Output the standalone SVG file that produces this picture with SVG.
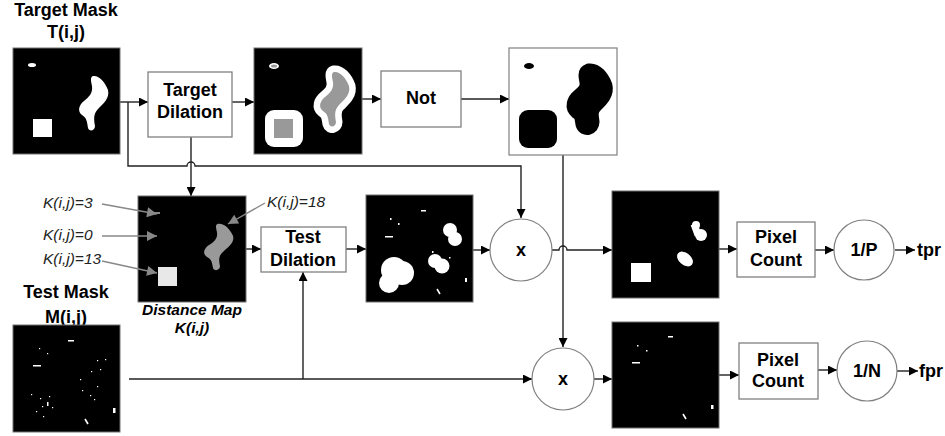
<svg xmlns="http://www.w3.org/2000/svg" width="945" height="436" viewBox="0 0 945 436">
<style>
.t{font-family:"Liberation Sans",Arial,sans-serif;font-weight:bold;font-size:18px;fill:#000;text-anchor:middle}
.k{font-family:"Liberation Sans",Arial,sans-serif;font-style:italic;font-size:15.5px;fill:#222}
.dm{font-family:"Liberation Sans",Arial,sans-serif;font-style:italic;font-weight:bold;font-size:15.5px;fill:#000;text-anchor:middle}
.box{fill:#fff;stroke:#808080;stroke-width:1.3}
.img{fill:#000;stroke:#707070;stroke-width:1}
.c{fill:none;stroke:#222;stroke-width:1.4}
.g{fill:none;stroke:#888;stroke-width:1.4}
.w{fill:#fff}
</style>
<defs>
<marker id="a" viewBox="0 0 10 10" refX="10" refY="5" markerWidth="10" markerHeight="9" markerUnits="userSpaceOnUse" orient="auto"><path d="M0,0 L10,5 L0,10 Z" fill="#000"/></marker>
<marker id="ag" viewBox="0 0 10 10" refX="10" refY="5" markerWidth="12" markerHeight="10" markerUnits="userSpaceOnUse" orient="auto"><path d="M0,0 L10,5 L0,10 Z" fill="#888"/></marker>
<path id="snake" d="M80,28 C86,27 92,34 95,42 C97,50 90,56 85,61 C80,66 81,72 82,78 C82,83 76,84 75,80 C74,74 74,70 69,67 C64,63 66,57 71,53 C76,49 80,45 79,38 C78,33 77,29 80,28 Z"/>
</defs>

<g id="connectors">
<path class="c" d="M120,102 H148" marker-end="url(#a)"/>
<path class="c" d="M128,102 V166 H187 a4,4 0 0 1 8,0 H521 V218" marker-end="url(#a)"/>
<path class="c" d="M191,137 V196" marker-end="url(#a)"/>
<path class="c" d="M232,102 H254" marker-end="url(#a)"/>
<path class="c" d="M362,99 H381" marker-end="url(#a)"/>
<path class="c" d="M461,99 H509" marker-end="url(#a)"/>
<path class="c" d="M563,155 V347" marker-end="url(#a)"/>
<path class="c" d="M246,249 H261" marker-end="url(#a)"/>
<path class="c" d="M346,249 H366" marker-end="url(#a)"/>
<path class="c" d="M473,250 H490" marker-end="url(#a)"/>
<path class="c" d="M552,250 H559 a4,4 0 0 1 8,0 H612" marker-end="url(#a)"/>
<path class="c" d="M129,379 H532" marker-end="url(#a)"/>
<path class="c" d="M303,379 V272" marker-end="url(#a)"/>
<path class="c" d="M594,379 H612" marker-end="url(#a)"/>
<path class="c" d="M719,249 H737" marker-end="url(#a)"/>
<path class="c" d="M815,250 H834" marker-end="url(#a)"/>
<path class="c" d="M895,250 H915" marker-end="url(#a)"/>
<path class="c" d="M719,375 H739" marker-end="url(#a)"/>
<path class="c" d="M818,370 H837" marker-end="url(#a)"/>
<path class="c" d="M897,371 H918" marker-end="url(#a)"/>
</g>

<g id="target-mask">
<text class="t" x="66" y="16">Target Mask</text>
<text class="t" x="66" y="38">T(i,j)</text>
<rect class="img" x="13" y="48" width="107" height="106"/>
<ellipse class="w" cx="32" cy="65" rx="4" ry="2"/>
<use href="#snake" transform="translate(13,48)" fill="#fff"/>
<rect class="w" x="33" y="119" width="19" height="18"/>
</g>

<g id="target-dilation">
<rect class="box" x="148" y="72" width="84" height="65"/>
<text class="t" x="190" y="96">Target</text>
<text class="t" x="190" y="118">Dilation</text>
</g>

<g id="dilated-target">
<rect class="img" x="254" y="48" width="108" height="106"/>
<ellipse cx="274" cy="66" rx="5" ry="3" fill="#fff"/>
<ellipse cx="274" cy="66" rx="3" ry="1.5" fill="#999"/>
<rect class="w" x="265" y="110" width="38" height="37" rx="9"/>
<rect x="274" y="119" width="19" height="19" fill="#999"/>
<use href="#snake" transform="translate(254,44)" fill="#999" stroke="#fff" stroke-width="13" stroke-linejoin="round" paint-order="stroke"/>
</g>

<g id="not">
<rect class="box" x="381" y="71" width="80" height="56"/>
<text class="t" x="421" y="104">Not</text>
</g>

<g id="inverted">
<rect x="509" y="48" width="108" height="107" fill="#fff" stroke="#808080" stroke-width="1.2"/>
<ellipse cx="529" cy="66" rx="5" ry="3" fill="#000"/>
<rect x="519" y="110" width="38" height="38" rx="9" fill="#000"/>
<use href="#snake" transform="translate(509,44)" fill="#000" stroke="#000" stroke-width="17" stroke-linejoin="round"/>
</g>

<g id="distance-map">
<rect class="img" x="138" y="196" width="108" height="106"/>
<rect x="154" y="212" width="6" height="2" fill="#888"/>
<use href="#snake" transform="translate(138,223) scale(1,0.85) translate(0,-27)" fill="#999"/>
<rect x="158" y="267" width="19" height="19" fill="#e8e8e8"/>
<path class="g" d="M102,204 L157,214" marker-end="url(#ag)"/>
<path class="g" d="M102,236 L157,236" marker-end="url(#ag)"/>
<path class="g" d="M102,261 L157,273" marker-end="url(#ag)"/>
<path class="g" d="M265,203 L228,224" marker-end="url(#ag)"/>
<text class="k" x="43" y="208">K(i,j)=3</text>
<text class="k" x="43" y="240">K(i,j)=0</text>
<text class="k" x="43" y="264">K(i,j)=13</text>
<text class="k" x="267" y="207">K(i,j)=18</text>
<text class="dm" x="192" y="315">Distance Map</text>
<text class="dm" x="192" y="333">K(i,j)</text>
</g>

<g id="test-dilation">
<rect class="box" x="261" y="227" width="85" height="45"/>
<text class="t" x="303" y="243">Test</text>
<text class="t" x="303" y="266">Dilation</text>
</g>

<g id="dilated-test">
<rect class="img" x="366" y="195" width="107" height="107"/>
<g fill="#fff">
<circle cx="450" cy="230" r="7"/><circle cx="455" cy="239" r="7"/>
<circle cx="435" cy="261" r="7"/><circle cx="442" cy="266" r="7.5"/>
<circle cx="394" cy="270" r="13"/><circle cx="402" cy="273" r="12"/><circle cx="389" cy="283" r="10"/>
<rect x="421" y="210" width="5" height="1.5"/>
<rect x="385" y="236" width="8" height="1.5"/>
<rect x="390" y="218" width="1.5" height="2"/><rect x="398" y="223" width="1.5" height="2"/>
<rect x="432" y="251" width="1.5" height="2"/><rect x="449" y="257" width="1.5" height="1.5"/>
<rect x="465" y="278" width="2" height="4"/>
<path d="M437,289 L440,294" stroke="#fff" stroke-width="1.5"/>
</g>
</g>

<g id="mult-top">
<circle cx="521" cy="250" r="31" fill="#fff" stroke="#808080" stroke-width="1.2"/>
<text class="t" x="521" y="256">x</text>
</g>

<g id="test-mask">
<text class="t" x="66" y="298">Test Mask</text>
<text class="t" x="66" y="323">M(i,j)</text>
<rect class="img" x="13" y="325" width="107" height="107"/>
<g fill="#fff">
<rect x="68" y="340" width="6" height="1.5"/>
<rect x="33" y="365" width="8" height="1.5"/>
<rect x="39" y="348" width="1.2" height="1.2"/><rect x="47" y="353" width="1.2" height="1.2"/>
<rect x="97" y="360" width="1.2" height="1.2"/><rect x="105" y="359" width="1.2" height="1.2"/>
<rect x="100" y="369" width="1.2" height="1.2"/><rect x="91" y="371" width="1.2" height="1.2"/>
<rect x="80" y="379" width="1.2" height="1.2"/><rect x="97" y="386" width="1.2" height="1.2"/>
<rect x="82" y="390" width="1.2" height="1.2"/><rect x="31" y="394" width="1.2" height="1.2"/>
<rect x="40" y="398" width="1.2" height="1.2"/><rect x="49" y="396" width="1.2" height="1.2"/>
<rect x="90" y="395" width="1.2" height="1.2"/><rect x="94" y="399" width="1.2" height="1.2"/>
<rect x="47" y="402" width="1.5" height="4"/>
<rect x="42" y="406" width="1.2" height="1.2"/><rect x="52" y="407" width="1.2" height="1.2"/>
<rect x="36" y="411" width="1.2" height="1.2"/><rect x="43" y="416" width="1.2" height="1.2"/>
<rect x="113" y="408" width="2.5" height="5"/>
<path d="M85,419 L88,424" stroke="#fff" stroke-width="1.6"/>
</g>
</g>

<g id="mult-bottom">
<circle cx="563" cy="379" r="31" fill="#fff" stroke="#808080" stroke-width="1.2"/>
<text class="t" x="563" y="385">x</text>
</g>

<g id="true-positives">
<rect class="img" x="612" y="191" width="107" height="107"/>
<g fill="#fff">
<circle cx="696" cy="225" r="4"/><circle cx="701" cy="235" r="6"/>
<path d="M694,224 L698,235" stroke="#fff" stroke-width="7"/>
<ellipse cx="685" cy="259" rx="9" ry="6" transform="rotate(40 685 259)"/>
<rect x="631" y="263" width="20" height="19"/>
</g>
</g>

<g id="false-positives">
<rect class="img" x="612" y="322" width="107" height="106"/>
<g fill="#fff">
<rect x="668" y="336" width="5" height="1.5"/>
<rect x="637" y="345" width="1.5" height="1.5"/><rect x="646" y="350" width="1.5" height="1.5"/>
<rect x="632" y="362" width="8" height="1.5"/>
<rect x="711" y="405" width="2.5" height="4"/>
<path d="M683,414 L686,419" stroke="#fff" stroke-width="1.6"/>
</g>
</g>

<g id="pixel-count-top">
<rect class="box" x="737" y="222" width="78" height="55"/>
<text class="t" x="776" y="243">Pixel</text>
<text class="t" x="776" y="266">Count</text>
</g>

<g id="inv-p">
<circle cx="864" cy="250" r="30" fill="#fff" stroke="#808080" stroke-width="1.2"/>
<text class="t" x="864" y="256">1/P</text>
</g>
<g id="tpr"><text class="t" x="917" y="256" style="text-anchor:start">tpr</text></g>

<g id="pixel-count-bottom">
<rect class="box" x="739" y="343" width="79" height="56"/>
<text class="t" x="778" y="366">Pixel</text>
<text class="t" x="778" y="387">Count</text>
</g>

<g id="inv-n">
<circle cx="867" cy="371" r="30" fill="#fff" stroke="#808080" stroke-width="1.2"/>
<text class="t" x="867" y="377">1/N</text>
</g>
<g id="fpr"><text class="t" x="919" y="377" style="text-anchor:start">fpr</text></g>
</svg>
